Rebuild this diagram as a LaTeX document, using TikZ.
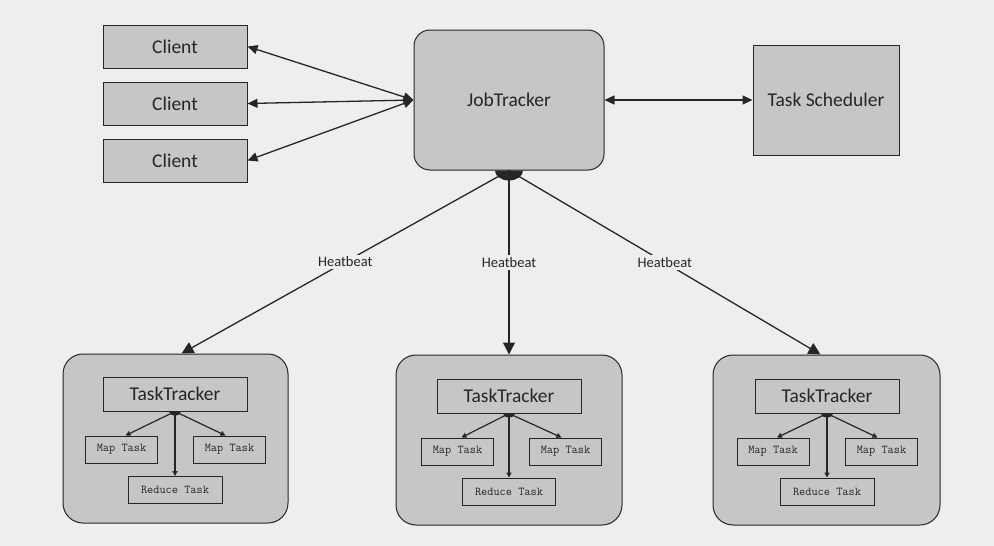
\documentclass[tikz,border=0pt]{standalone}
\usepackage{fontspec}
\setmainfont{Carlito}
\usetikzlibrary{arrows.meta,calc}
\definecolor{bg}{RGB}{238,238,236}
\definecolor{boxfill}{RGB}{198,198,196}
\definecolor{ink}{RGB}{38,38,38}
\begin{document}
\begin{tikzpicture}[x=1pt,y=-1pt,
  box/.style={draw=ink, line width=1pt, fill=boxfill, inner sep=0pt, text=ink, font=\fontsize{19.5}{22}\selectfont},
  rbox/.style={box, rounded corners=16pt},
  outer/.style={draw=ink, line width=1pt, fill=boxfill, rounded corners=20pt, inner sep=0pt},
  ttbox/.style={box, minimum width=144pt, minimum height=34pt},
  taskbox/.style={draw=ink, line width=1pt, fill=boxfill, inner sep=0pt, minimum height=27pt, text=ink, font=\ttfamily\fontsize{12}{13}\selectfont},
  dbl/.style={draw=ink, line width=1.3pt, {Triangle[length=10pt,width=9pt]}-{Triangle[length=10pt,width=9pt]}},
  hb/.style={draw=ink, line width=1.3pt, -{Triangle[length=12pt,width=12pt]}},
  small/.style={draw=ink, line width=1.2pt, -{Triangle[length=5pt,width=5pt]}},
  lbl/.style={fill=bg, inner sep=2pt, text=ink, font=\fontsize{14.5}{16}\selectfont}
]
\fill[bg] (0,0) rectangle (994,546);
\useasboundingbox (0,0) rectangle (994,546);

% top row
\node[box, minimum width=144pt, minimum height=43pt] (c1) at (175,46.5) {Client};
\node[box, minimum width=144pt, minimum height=43pt] (c2) at (175,103.5) {Client};
\node[box, minimum width=144pt, minimum height=43pt] (c3) at (175,160.5) {Client};
\node[rbox, minimum width=190pt, minimum height=140pt] (jt) at (509,100) {JobTracker};
\node[box, minimum width=146pt, minimum height=110pt] (ts) at (826,100) {Task Scheduler};

\draw[dbl] (c1.east) -- (jt.west);
\draw[dbl] (c2.east) -- (jt.west);
\draw[dbl] (c3.east) -- (jt.west);
\draw[dbl] (jt.east) -- (ts.west);

% bottom groups
\node[outer, minimum width=225pt, minimum height=169pt] (gl) at (175.5,438.5) {};
\node[outer, minimum width=226pt, minimum height=170pt] (gm) at (509,440) {};
\node[outer, minimum width=227pt, minimum height=170pt] (gr) at (826.5,440) {};

\coordinate (hl) at ([xshift=6pt]gl.north);
\coordinate (hm) at (gm.north);
\coordinate (hr) at ([xshift=-6pt]gr.north);

\draw[hb] (jt.south) -- node[lbl] {Heatbeat} (hl);
\draw[hb] (jt.south) -- node[lbl] {Heatbeat} (hm);
\draw[hb] (jt.south) -- node[lbl] {Heatbeat} (hr);
\fill[ink] ([xshift=-14pt]jt.south) arc[start angle=180, end angle=360, x radius=14pt, y radius=10pt] -- cycle;

% left group
\node[ttbox] (ttl) at (175,394) {TaskTracker};
\node[taskbox, minimum width=72pt] (ml1) at (121.5,449.5) {Map Task};
\node[taskbox, minimum width=72pt] (ml2) at (229.5,449.5) {Map Task};
\node[taskbox, minimum width=94pt] (rl) at (175,490) {Reduce Task};
% middle group
\node[ttbox] (ttm) at (509,396) {TaskTracker};
\node[taskbox, minimum width=72pt] (mm1) at (457.5,451.5) {Map Task};
\node[taskbox, minimum width=72pt] (mm2) at (565.5,451.5) {Map Task};
\node[taskbox, minimum width=93pt] (rm) at (509,491.5) {Reduce Task};
% right group
\node[ttbox] (ttr) at (827,396) {TaskTracker};
\node[taskbox, minimum width=72pt] (mr1) at (773,451.5) {Map Task};
\node[taskbox, minimum width=72pt] (mr2) at (881.5,451.5) {Map Task};
\node[taskbox, minimum width=94pt] (rr) at (827,491.5) {Reduce Task};

\foreach \t/\a/\b/\r in {ttl/ml1/ml2/rl, ttm/mm1/mm2/rm, ttr/mr1/mr2/rr}{
  \draw[small] (\t.south) -- ([xshift=4pt]\a.north);
  \draw[small] (\t.south) -- ([xshift=-4pt]\b.north);
  \draw[small] (\t.south) -- (\r.north);
  \fill[ink] ([xshift=-6pt]\t.south) arc[start angle=180, end angle=360, x radius=6pt, y radius=4pt] -- cycle;
}
\end{tikzpicture}
\end{document}
